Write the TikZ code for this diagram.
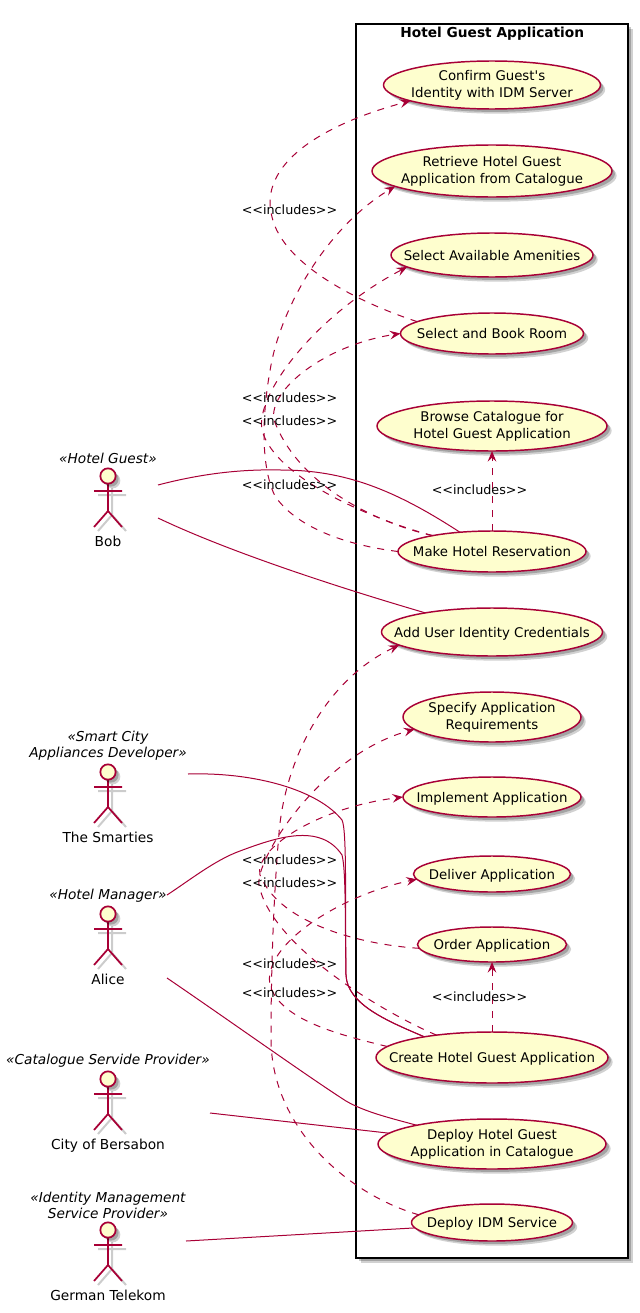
\documentclass[tikz,border=0pt]{standalone}
\usepackage{fontspec}
\setmainfont{DejaVu Sans}[Ligatures={TeXOff,NoCommon}]
\usetikzlibrary{shapes.geometric,arrows.meta,positioning,shadows}

\definecolor{umlred}{HTML}{A80036}
\definecolor{umlfill}{HTML}{FEFECE}

\begin{document}
\begin{tikzpicture}[
    x=0.75pt,
    y=-0.75pt,
    softshadow/.style={
        drop shadow={shadow xshift=3.5pt, shadow yshift=-3.5pt, opacity=0.18, fill=black},
        drop shadow={shadow xshift=2.2pt, shadow yshift=-2.2pt, opacity=0.22, fill=black}
    },
    usecase/.style={
        ellipse,
        draw=umlred,
        fill=umlfill,
        line width=1.1pt,
        inner xsep=-60pt,
        inner ysep=-14pt,
        outer sep=0pt,
        align=center,
        softshadow,
        font=\fontsize{10}{12.75}\selectfont
    },
    oneline/.style={text height=7.6pt, text depth=0pt},
    sysbox/.style={
        rectangle,
        draw=black,
        fill=white,
        line width=1.5pt,
        minimum width=204pt,
        minimum height=925.5pt,
        softshadow
    },
    systitle/.style={font=\fontsize{10.3}{12}\selectfont\bfseries, inner sep=0pt},
    actorhead/.style={
        circle,
        draw=umlred,
        fill=umlfill,
        line width=1.3pt,
        minimum size=11.5pt,
        inner sep=0pt,
        softshadow
    },
    actorname/.style={
        font=\fontsize{10.3}{12}\selectfont,
        text height=8pt,
        text depth=2pt,
        inner sep=0pt
    },
    stereo/.style={
        font=\fontsize{10.25}{12}\selectfont\itshape,
        align=center,
        inner sep=0pt
    },
    inclabel/.style={font=\fontsize{9.55}{12}\selectfont, inner sep=0pt},
    assoc/.style={draw=umlred, line width=0.75pt},
    incline/.style={
        draw=umlred,
        line width=0.75pt,
        dash pattern=on 5.25pt off 5.25pt,
        -{Stealth[length=8pt, width=6.5pt, inset=3pt]}
    },
    actorfig/.pic={
        \draw [black!20, line width=1.5pt, shift={(4,4)}] (0,8) -- (0,35) (-14,15) -- (14,15) (-14,51) -- (0,35) -- (14,51);
        \draw [umlred, line width=1.3pt] (0,8) -- (0,35) (-14,15) -- (14,15) (-14,51) -- (0,35) -- (14,51);
        \node [actorhead] (-head) at (0,0) {};
    }
]
\useasboundingbox (0,0) rectangle (639,1313);

% System boundary
\node [sysbox] (hotelapp) at (492.25,641) {};
\node [systitle, below=3pt of hotelapp.north] (apptitle) {Hotel Guest Application};

% Use cases from top to bottom
\node [usecase, minimum width=162.75pt, minimum height=36pt] (confirm) at (492,85) {Confirm Guest's\\Identity with IDM Server};
\node [usecase, minimum width=180pt, minimum height=39pt, below=27pt of confirm] (retrieve) {Retrieve Hotel Guest\\Application from Catalogue};
\node [usecase, oneline, minimum width=151.5pt, minimum height=33pt, below=27pt of retrieve] (amenities) {Select Available Amenities};
\node [usecase, oneline, minimum width=137.25pt, minimum height=30.75pt, below=27pt of amenities] (book) {Select and Book Room};
\node [usecase, minimum width=172.5pt, minimum height=37.5pt, below=35.25pt of book] (browse) {Browse Catalogue for\\Hotel Guest Application};
\node [usecase, oneline, minimum width=141pt, minimum height=30.75pt, below=60pt of browse] (reservation) {Make Hotel Reservation};
\node [usecase, oneline, minimum width=165.75pt, minimum height=36pt, below=27pt of reservation] (credentials) {Add User Identity Credentials};
\node [usecase, minimum width=133.5pt, minimum height=37.5pt, below=27pt of credentials] (specify) {Specify Application\\Requirements};
\node [usecase, oneline, minimum width=133.5pt, minimum height=30pt, below=26.25pt of specify] (implement) {Implement Application};
\node [usecase, oneline, minimum width=117.75pt, minimum height=27pt, below=29.25pt of implement] (deliver) {Deliver Application};
\node [usecase, oneline, minimum width=111.75pt, minimum height=26.25pt, below=26.25pt of deliver] (order) {Order Application};
\node [usecase, oneline, minimum width=174pt, minimum height=38.25pt, below=52.5pt of order] (create) {Create Hotel Guest Application};
\node [usecase, minimum width=171pt, minimum height=37.5pt, below=27pt of create] (deployapp) {Deploy Hotel Guest\\Application in Catalogue};
\node [usecase, oneline, minimum width=120.75pt, minimum height=27.75pt, below=26.25pt of deployapp] (deployidm) {Deploy IDM Service};

% Actors
\pic (bob) at (108,476) {actorfig};
\node [stereo, above=2.5pt of bob-head] (bobstereo) {«Hotel Guest»};
\node [actorname, below=38.5pt of bob-head] (bobname) {Bob};

\pic (smarties) at (108,772) {actorfig};
\node [stereo, above=2pt of smarties-head] (smartiesstereo) {«Smart City\\Appliances Developer»};
\node [actorname, below=38.5pt of smarties-head] (smartiesname) {The Smarties};

\pic (alice) at (108,914) {actorfig};
\node [stereo, above=2.5pt of alice-head] (alicestereo) {«Hotel Manager»};
\node [actorname, below=38.5pt of alice-head] (alicename) {Alice};

\pic (city) at (108,1079) {actorfig};
\node [stereo, above=2.5pt of city-head] (citystereo) {«Catalogue Servide Provider»};
\node [actorname, below=38.5pt of city-head] (cityname) {City of Bersabon};

\pic (telekom) at (108,1230) {actorfig};
\node [stereo, above=2pt of telekom-head] (telekomstereo) {«Identity Management\\Service Provider»};
\node [actorname, below=38.5pt of telekom-head] (telekomname) {German Telekom};

% Free ends of the associations
\coordinate (bobupper) at (158,485);
\coordinate (boblower) at (158,518);
\coordinate (smartiesend) at (188,774);
\coordinate (aliceupper) at (167,895);
\coordinate (alicelower) at (167,978);
\coordinate (cityend) at (210,1113);
\coordinate (telekomend) at (186,1241);

% Associations
\draw [assoc] (bobupper) .. controls (200,474) and (240,469) .. (281,470) .. controls (345,470) and (395,490) .. (reservation.149);
\draw [assoc] (boblower) .. controls (225,550) and (330,585) .. (credentials.164);
\draw [assoc] (smartiesend) .. controls (255,772) and (318,790) .. (342,820) .. controls (347,830) and (345,900) .. (346,975) .. controls (347,1005) and (390,1022) .. (create.163);
\draw [assoc] (aliceupper) .. controls (190,880) and (215,860) .. (240,851) .. controls (275,838) and (320,822) .. (342,855) .. controls (346,870) and (345,920) .. (346,975) .. controls (347,1005) and (390,1022) .. (create.163);
\draw [assoc] (alicelower) .. controls (230,1021) and (310,1078) .. (346,1101) .. controls (365,1112) and (390,1118) .. (deployapp.166);
\draw [assoc] (cityend) -- (deployapp.174);
\draw [assoc] (telekomend) -- (deployidm.184);

% Includes, upper group
\draw [incline] (book.171) .. controls (360,303) and (283,265) .. (272,217) .. controls (258,165) and (320,125) .. (confirm.191);
\draw [incline] (reservation.180) .. controls (345,545) and (296,527) .. (275,496) .. controls (262,470) and (260,420) .. (272,360) .. controls (285,300) and (330,225) .. (retrieve.189);
\draw [incline] (reservation.165) .. controls (380,522) and (275,480) .. (262,430) .. controls (255,395) and (315,315) .. (amenities.188);
\draw [incline] (reservation.165) .. controls (385,525) and (300,490) .. (274,420) .. controls (268,390) and (325,345) .. (book.180);
\draw [incline] (reservation) -- (browse);

% Includes, lower group
\draw [incline] (create.158) .. controls (395,1018) and (272,950) .. (259,885) .. controls (255,860) and (320,755) .. (specify.189);
\draw [incline] (order.183) .. controls (365,945) and (280,925) .. (260,875) .. controls (254,850) and (315,808) .. (implement.180);
\draw [incline] (create.174) .. controls (340,1035) and (280,1020) .. (270,985) .. controls (262,945) and (340,895) .. (deliver.184);
\draw [incline] (deployidm.174) .. controls (350,1195) and (272,1130) .. (271,1040) .. controls (271,950) and (275,880) .. (279,833) .. controls (285,760) and (325,680) .. (credentials.188);
\draw [incline] (create) -- (order);

% Labels of the includes
\node [inclabel] (inclconfirm) at (289.5,210) {<<includes>>};
\node [inclabel] (inclretrieve) at (289.5,398) {<<includes>>};
\node [inclabel] (inclamenities) at (289.5,421) {<<includes>>};
\node [inclabel] (inclbook) at (289.5,485) {<<includes>>};
\node [inclabel] (inclbrowse) at (479.5,490) {<<includes>>};
\node [inclabel] (inclspecify) at (289.5,860) {<<includes>>};
\node [inclabel] (inclimplement) at (289.5,883) {<<includes>>};
\node [inclabel] (incldeliver) at (289.5,964) {<<includes>>};
\node [inclabel] (inclcredentials) at (289.5,993) {<<includes>>};
\node [inclabel] (inclorder) at (479.5,997) {<<includes>>};

\end{tikzpicture}
\end{document}
